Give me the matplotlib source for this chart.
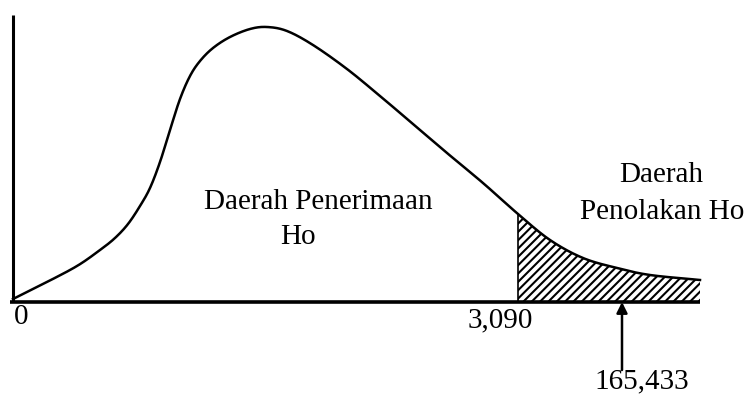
import matplotlib
matplotlib.use("Agg")
import matplotlib.pyplot as plt
import numpy as np

# Hand-drawn F-distribution shape: horizontal position and height above the axis
curve_x = [13, 45, 77, 100, 115, 128, 140, 150, 160, 170, 180, 190, 200,
           213, 230, 250, 267, 287, 313, 347, 380, 413, 447, 483, 518, 550,
           583, 617, 650, 700]
curve_y = [3, 19, 36, 52, 64, 78, 96, 114, 140, 172, 203, 226, 241,
           254, 265, 273, 275, 271, 257, 233, 206, 178, 149, 119, 88, 62,
           44, 34, 27, 22]

# Critical value (start of rejection region) and observed statistic
critical_x = 518
critical_label = "3,090"
observed_x = 622
observed_label = "165,433"
origin_label = "0"

accept_label = ["Daerah Penerimaan", "Ho"]
reject_label = ["Daerah", "Penolakan Ho"]

plt.rcParams["font.family"] = ["Liberation Serif", "DejaVu Serif"]
plt.rcParams["hatch.linewidth"] = 1.5


def catmull_rom(px, py, n=40):
    """Uniform Catmull-Rom spline passing through the given points."""
    p = np.column_stack([px, py]).astype(float)
    p = np.vstack([2 * p[0] - p[1], p, 2 * p[-1] - p[-2]])
    out = []
    t = np.linspace(0, 1, n, endpoint=False)[:, None]
    for i in range(1, len(p) - 2):
        p0, p1, p2, p3 = p[i - 1], p[i], p[i + 1], p[i + 2]
        seg = 0.5 * ((2 * p1) + (-p0 + p2) * t
                     + (2 * p0 - 5 * p1 + 4 * p2 - p3) * t ** 2
                     + (-p0 + 3 * p1 - 3 * p2 + p3) * t ** 3)
        out.append(seg)
    out.append(p[-2][None, :])
    out = np.vstack(out)
    return out[:, 0], out[:, 1]


fig = plt.figure(figsize=(7.49, 3.99), dpi=100)
ax = fig.add_axes([0, 0, 1, 1])
ax.set_xlim(0, 749)
ax.set_ylim(-97, 302)
ax.axis("off")

xs, ys = catmull_rom(curve_x, curve_y)

# Axes lines
ax.plot([13, 13], [0, 287], color="black", lw=2.2, solid_capstyle="butt")
ax.plot([10, 700], [0, 0], color="black", lw=2.6, solid_capstyle="butt")

# Curve
ax.plot(xs, ys, color="black", lw=1.8)

# Shaded rejection region
mask = xs >= critical_x
ax.fill_between(xs[mask], 0, ys[mask], facecolor="white", edgecolor="black",
                hatch="////", linewidth=0)
ax.plot([critical_x, critical_x], [0, np.interp(critical_x, xs, ys)],
        color="black", lw=1.2)

# Labels
fs = 21
ax.text(318, 100, accept_label[0], ha="center", va="center", fontsize=fs)
ax.text(298, 65, accept_label[1], ha="center", va="center", fontsize=fs)
ax.text(661, 127, reject_label[0], ha="center", va="center", fontsize=fs)
ax.text(662, 90, reject_label[1], ha="center", va="center", fontsize=fs)

ax.text(21, -15, origin_label, ha="center", va="center", fontsize=fs)
ax.text(500, -18, critical_label, ha="center", va="center", fontsize=fs)
ax.text(642, -79, observed_label, ha="center", va="center", fontsize=fs)

# Arrow pointing at the observed statistic
ax.annotate("", xy=(observed_x, 0), xytext=(observed_x, -68),
            arrowprops=dict(arrowstyle="-|>", color="black", lw=1.8,
                            mutation_scale=16, shrinkA=0, shrinkB=0))

fig.savefig("out.png", dpi=100, facecolor="white")
